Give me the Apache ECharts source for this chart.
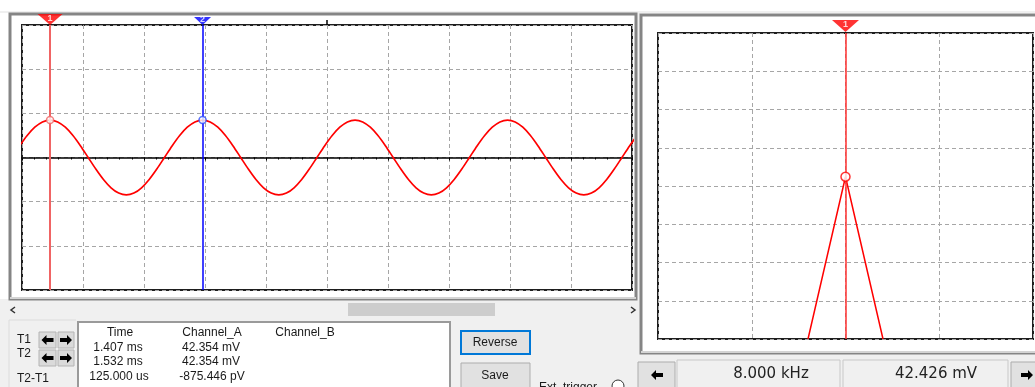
<!DOCTYPE html>
<html>
<head>
<meta charset="utf-8">
<script src="https://cdn.jsdelivr.net/npm/echarts@6/dist/echarts.min.js"></script>
<style>
html,body{margin:0;padding:0;background:#ffffff;}
#chart{width:1035px;height:387px;}
</style>
</head>
<body>
<div id="chart"></div>
<script>
// ---------- Oscilloscope (time domain) ----------
// screen spans 500 us (10 div x 50 us/div), screen start = 1.384 ms
const scopeStartUs = -2;      // time of first sample, relative to screen start
const scopeStepUs = 6.25;     // sample spacing
const channelA_mV = [
  13.1, 24.9, 34.3, 40.3, 42.4, 40.3, 34.3, 24.9, 13.1, 0, -13.1, -24.9, -34.3, -40.3, -42.4, -40.3, -34.3, -24.9, -13.1, 0,
  13.1, 24.9, 34.3, 40.3, 42.4, 40.3, 34.3, 24.9, 13.1, 0, -13.1, -24.9, -34.3, -40.3, -42.4, -40.3, -34.3, -24.9, -13.1, 0,
  13.1, 24.9, 34.3, 40.3, 42.4, 40.3, 34.3, 24.9, 13.1, 0, -13.1, -24.9, -34.3, -40.3, -42.4, -40.3, -34.3, -24.9, -13.1, 0,
  13.1, 24.9, 34.3, 40.3, 42.4, 40.3, 34.3, 24.9, 13.1, 0, -13.1, -24.9, -34.3, -40.3, -42.4, -40.3, -34.3, -24.9, -13.1, 0,
  13.1, 24.9
];
const cursorNames = ['1', '2'];
const cursorTimeUs = [23, 148];          // T1 = 1.407 ms, T2 = 1.532 ms
const cursorValue_mV = [42.354, 42.354];

// readout table
const tableHeader = ['Time', 'Channel_A', 'Channel_B'];
const tableRows = [
  ['1.407 ms', '42.354 mV', ''],
  ['1.532 ms', '42.354 mV', ''],
  ['125.000 us', '-875.446 pV', '']
];
const rowLabels = ['T1', 'T2', 'T2-T1'];

// ---------- Spectrum ----------
const specFreq_kHz = [6.4, 8.0, 9.6];
const specAmp_mV = [0, 42.426, 0];
const specCursor_kHz = 8.0;
const specCursorAmp_mV = 42.426;
const specReadout = ['8.000 kHz', '42.426 mV'];

const chart = echarts.init(document.getElementById('chart'), null, {renderer: 'canvas'});

const waveData = channelA_mV.map((v, i) => [scopeStartUs + i * scopeStepUs, v]);
const specData = specFreq_kHz.map((f, i) => [f, specAmp_mV[i]]);

const FONT = '"Liberation Sans", Arial, sans-serif';
const dashStyle = {color: '#a6a6a6', width: 1, type: [4, 3]};
const triPath = 'path://M0,0 L20,0 L10,9 Z';

function txt(text, x, y, opts) {
  opts = opts || {};
  return {
    type: 'text', z: 20,
    style: {
      text: text, x: x, y: y,
      fill: opts.fill || '#1a1a1a',
      fontSize: opts.size || 12,
      fontFamily: opts.family || FONT,
      align: opts.align || 'center',
      verticalAlign: 'middle'
    }
  };
}
function rect(x, y, w, h, fill, stroke, lw, z) {
  return {type: 'rect', z: z === undefined ? -10 : z, silent: true,
    shape: {x: x, y: y, width: w, height: h},
    style: {fill: fill, stroke: stroke || null, lineWidth: lw || 0}};
}
function line(x1, y1, x2, y2, color, lw, z) {
  return {type: 'line', z: z === undefined ? -5 : z, silent: true,
    shape: {x1: x1, y1: y1, x2: x2, y2: y2},
    style: {stroke: color, lineWidth: lw || 1}};
}
function arrow(cx, cy, dir) {
  const s = dir; // -1 left, 1 right
  const pts = [[cx + 6 * s, cy], [cx + 1 * s, cy - 5], [cx + 1 * s, cy - 2], [cx - 6 * s, cy - 2],
               [cx - 6 * s, cy + 2], [cx + 1 * s, cy + 2], [cx + 1 * s, cy + 5]];
  return {type: 'polygon', z: 15, silent: true, shape: {points: pts}, style: {fill: '#000'}};
}
function chevron(cx, cy, dir) {
  return {type: 'polyline', z: 15, silent: true,
    shape: {points: [[cx + 2 * dir, cy - 3], [cx - 2 * dir, cy], [cx + 2 * dir, cy + 3]]},
    style: {stroke: '#333', lineWidth: 1.5, fill: null}};
}

const graphics = [
  // bottom gray area and gap between panels
  rect(0, 299, 1035, 88, '#f0f0f0'),
  rect(0, 11, 1035, 2, '#f0f0f0'),
  rect(636, 11, 4, 290, '#f0f0f0'),
  // left scope frame
  rect(10, 14, 626, 285, '#ffffff', '#858585', 3),
  line(10, 298, 636, 298, '#d4d4d4', 2, -4),
  // right spectrum frame
  rect(641, 15, 400, 338, '#ffffff', '#858585', 3),
  line(641, 352, 1035, 352, '#d4d4d4', 2, -4),
  // small mark at top center of scope
  line(327, 20, 327, 25, '#000', 1.5, 5),
  // scrollbar
  rect(0, 301, 636, 17, '#f0f0f0'),
  rect(348, 303, 147, 13, '#cdcdcd', null, 0, -4),
  chevron(13, 310, 1),
  chevron(633, 310, -1),
  // control group box
  line(9, 320, 76, 320, '#dcdcdc', 1),
  line(9, 320, 9, 387, '#dcdcdc', 1),
  // table box
  rect(78, 322, 372, 70, '#ffffff', '#9a9a9a', 2, -4),
  // cursor arrow buttons
  rect(39, 332, 17, 16, '#dadada', '#b4b4b4', 1, 10),
  rect(58, 332, 16, 16, '#dadada', '#b4b4b4', 1, 10),
  rect(39, 350, 17, 16, '#dadada', '#b4b4b4', 1, 10),
  rect(58, 350, 16, 16, '#dadada', '#b4b4b4', 1, 10),
  arrow(47.5, 340, -1), arrow(66, 340, 1),
  arrow(47.5, 358, -1), arrow(66, 358, 1),
  // Reverse / Save buttons
  rect(461, 331, 69, 23, '#e1e1e1', '#0078d7', 2, 10),
  rect(461, 363, 69, 28, '#e1e1e1', '#adadad', 1, 10),
  // radio
  {type: 'circle', z: 15, silent: true, shape: {cx: 618, cy: 386, r: 6}, style: {fill: '#fff', stroke: '#333', lineWidth: 1}},
  // spectrum readout bar
  rect(638, 362, 37, 30, '#e1e1e1', '#adadad', 1, 10),
  rect(677, 360, 163, 30, '#f0f0f0', '#c8c8c8', 1, 10),
  rect(843, 360, 165, 30, '#f0f0f0', '#c8c8c8', 1, 10),
  rect(1011, 362, 40, 30, '#e1e1e1', '#adadad', 1, 10),
  arrow(657, 375, -1), arrow(1027, 375, 1),
  // texts
  txt(rowLabels[0], 17, 340, {align: 'left'}),
  txt(rowLabels[1], 17, 354, {align: 'left'}),
  txt(rowLabels[2], 17, 379, {align: 'left'}),
  txt(tableHeader[0], 120, 333),
  txt(tableHeader[1], 212, 333),
  txt(tableHeader[2], 305, 333),
  txt(tableRows[0][0], 118, 348), txt(tableRows[0][1], 211, 348),
  txt(tableRows[1][0], 118, 362), txt(tableRows[1][1], 211, 362),
  txt(tableRows[2][0], 119, 377), txt(tableRows[2][1], 212, 377),
  txt('Reverse', 495, 343),
  txt('Save', 495, 376),
  txt('Ext. trigger', 539, 388, {align: 'left'}),
  txt(specReadout[0], 771, 374, {size: 15, family: '"DejaVu Sans", sans-serif', fill: '#222'}),
  txt(specReadout[1], 936, 374, {size: 15, family: '"DejaVu Sans", sans-serif', fill: '#222'})
];

const option = {
  animation: false,
  backgroundColor: '#ffffff',
  grid: [
    {left: 22, top: 25, width: 610, height: 265, show: true, backgroundColor: 'transparent',
     borderColor: '#1e1e1e', borderWidth: 2, outerBoundsMode: 'none', containLabel: false},
    {left: 658, top: 33, width: 375, height: 306, show: true, backgroundColor: 'transparent',
     borderColor: '#1e1e1e', borderWidth: 2, outerBoundsMode: 'none', containLabel: false}
  ],
  xAxis: [
    {type: 'value', gridIndex: 0, min: 0, max: 500, interval: 50,
     axisLine: {show: true, onZero: true, lineStyle: {color: '#000', width: 1.5}},
     axisTick: {show: true, length: 3, lineStyle: {color: '#000', width: 1}},
     minorTick: {show: true, splitNumber: 5, length: 2, lineStyle: {color: '#000', width: 1}},
     axisLabel: {show: false},
     splitLine: {show: true, lineStyle: dashStyle}},
    {type: 'value', gridIndex: 1, min: 0, max: 16, interval: 4,
     axisLine: {show: false}, axisTick: {show: false}, axisLabel: {show: false},
     splitLine: {show: true, lineStyle: dashStyle}}
  ],
  yAxis: [
    {type: 'value', gridIndex: 0, min: -150, max: 150, interval: 50,
     axisLine: {show: false}, axisTick: {show: false}, axisLabel: {show: false},
     splitLine: {show: true, lineStyle: dashStyle}},
    {type: 'value', gridIndex: 1, min: 0, max: 80, interval: 10,
     axisLine: {show: false}, axisTick: {show: false}, axisLabel: {show: false},
     splitLine: {show: true, lineStyle: dashStyle}}
  ],
  graphic: graphics,
  series: [
    {
      name: 'Channel_A', type: 'line', xAxisIndex: 0, yAxisIndex: 0,
      data: waveData, showSymbol: false, smooth: 0.3, clip: true,
      lineStyle: {color: '#ff0000', width: 1.7}, z: 3,
      markLine: {
        silent: true, symbol: ['none', 'none'], label: {show: false}, animation: false,
        data: [
          {xAxis: cursorTimeUs[0], lineStyle: {color: '#f06464', width: 2, type: 'solid'}},
          {xAxis: cursorTimeUs[1], lineStyle: {color: '#0000ff', width: 1.5, type: 'solid'}}
        ]
      }
    },
    {
      name: 'cursorMarks', type: 'scatter', xAxisIndex: 0, yAxisIndex: 0, clip: false, z: 6,
      data: [
        {value: [cursorTimeUs[0], cursorValue_mV[0]], itemStyle: {color: '#fff', borderColor: '#f06464', borderWidth: 1.5}},
        {value: [cursorTimeUs[1], cursorValue_mV[1]], itemStyle: {color: '#fff', borderColor: '#3050ff', borderWidth: 1.5}}
      ],
      symbol: 'circle', symbolSize: 7, silent: true
    },
    {
      name: 'cursorFlags', type: 'scatter', xAxisIndex: 0, yAxisIndex: 0, clip: false, z: 7, silent: true,
      data: [
        {value: [cursorTimeUs[0], 150], name: cursorNames[0], symbolSize: [25, 11], symbolOffset: [0, -5.5],
         itemStyle: {color: '#ff0000'}},
        {value: [cursorTimeUs[1], 150], name: cursorNames[1], symbolSize: [17, 8], symbolOffset: [0, -4],
         itemStyle: {color: '#0000ff'}}
      ],
      symbol: triPath, symbolKeepAspect: false,
      label: {show: true, position: 'inside', formatter: p => p.name, color: '#fff',
              fontSize: 9, fontWeight: 'bold', fontFamily: FONT, offset: [0, -1]}
    },
    {
      name: 'Spectrum', type: 'line', xAxisIndex: 1, yAxisIndex: 1,
      data: specData, showSymbol: false, lineStyle: {color: '#ff0000', width: 1.5}, z: 3,
      markLine: {
        silent: true, symbol: ['none', 'none'], label: {show: false}, animation: false,
        data: [{xAxis: specCursor_kHz, lineStyle: {color: '#ff3030', width: 1.5, type: 'solid'}}]
      }
    },
    {
      name: 'specMarks', type: 'scatter', xAxisIndex: 1, yAxisIndex: 1, clip: false, z: 6, silent: true,
      data: [
        {value: [specCursor_kHz, specCursorAmp_mV], symbol: 'circle', symbolSize: 9,
         itemStyle: {color: '#fff', borderColor: '#ff0000', borderWidth: 1.5}},
        {value: [specCursor_kHz, 80], name: cursorNames[0], symbol: triPath, symbolSize: [27, 12],
         symbolOffset: [0, -7], symbolKeepAspect: false, itemStyle: {color: '#ff0000'},
         label: {show: true, position: 'inside', formatter: p => p.name, color: '#fff',
                 fontSize: 9, fontWeight: 'bold', fontFamily: FONT, offset: [0, -1]}}
      ]
    }
  ]
};
chart.setOption(option);
</script>
</body>
</html>
